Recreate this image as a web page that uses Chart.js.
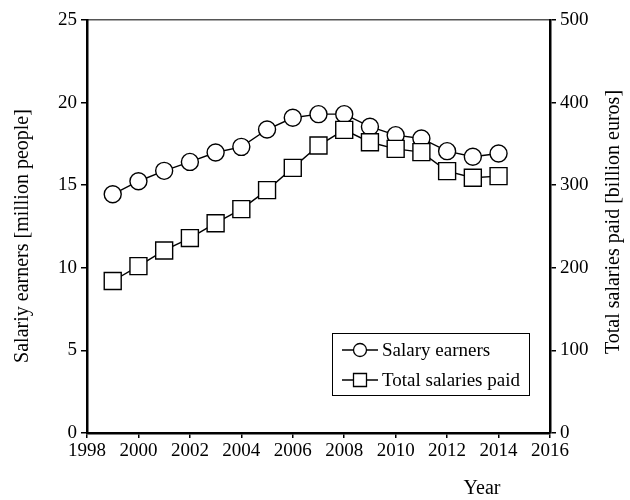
<!DOCTYPE html>
<html>
<head>
<meta charset="utf-8">
<script src="https://cdn.jsdelivr.net/npm/chart.js@4/dist/chart.umd.min.js"></script>
<style>
  html, body { margin: 0; padding: 0; background: #fff; }
  #wrap { width: 630px; height: 500px; }
</style>
</head>
<body>
<div id="wrap"><canvas id="myChart" width="630" height="500"></canvas></div>
<script>
const years = [1999, 2000, 2001, 2002, 2003, 2004, 2005, 2006, 2007, 2008, 2009, 2010, 2011, 2012, 2013, 2014];
const earners = [14.45, 15.24, 15.87, 16.41, 16.98, 17.32, 18.37, 19.08, 19.3, 19.3, 18.54, 18.03, 17.83, 17.06, 16.72, 16.92];
const salaries = [184, 202, 221, 236, 254, 271, 294, 321, 348, 367, 352, 344, 340, 317, 309, 311];
const legendLabels = ['Salary earners', 'Total salaries paid'];
const leftTitle = 'Salariy earners [million people]';
const rightTitle = 'Total salaries paid [billion euros]';
const xTitle = 'Year';

const serif = "'Liberation Serif', 'DejaVu Serif', serif";

function toPoints(vals) {
    return years.map((y, i) => ({x: y, y: vals[i]}));
}

// titles and legend drawn by hand so they sit where the reference has them
const extras = {
    id: 'extras',
    afterDraw(chart) {
        const ctx = chart.ctx;
        ctx.save();
        ctx.fillStyle = '#000';
        ctx.font = '20px ' + serif;
        ctx.textAlign = 'center';
        ctx.textBaseline = 'middle';

        ctx.save();
        ctx.translate(23, 236);
        ctx.rotate(-Math.PI / 2);
        ctx.fillText(leftTitle, 0, 0);
        ctx.restore();

        ctx.save();
        ctx.translate(614, 222);
        ctx.rotate(-Math.PI / 2);
        ctx.fillText(rightTitle, 0, 0);
        ctx.restore();

        ctx.fillText(xTitle, 482, 489);

        // legend box
        let bx = 332, by = 333, bw = 197, bh = 62;
        ctx.fillStyle = '#fff';
        ctx.fillRect(bx, by, bw, bh);
        ctx.strokeStyle = '#000';
        ctx.lineWidth = 1;
        ctx.strokeRect(bx + 0.5, by + 0.5, bw, bh);

        const rows = [350, 380];
        const styles = ['circle', 'rect'];
        ctx.font = '19px ' + serif;
        ctx.textAlign = 'left';
        rows.forEach((ry, i) => {
            ctx.beginPath();
            ctx.moveTo(342, ry);
            ctx.lineTo(378, ry);
            ctx.lineWidth = 1.3;
            ctx.stroke();
            ctx.fillStyle = '#fff';
            ctx.beginPath();
            if (styles[i] === 'circle') {
                ctx.arc(360, ry, 6.5, 0, Math.PI * 2);
            } else {
                ctx.rect(353.5, ry - 6.5, 13, 13);
            }
            ctx.fill();
            ctx.stroke();
            ctx.fillStyle = '#000';
            ctx.fillText(legendLabels[i], 382, ry + 1);
        });
        ctx.restore();
    }
};

const config = {
    type: 'line',
    data: {
        datasets: [{
            label: legendLabels[0],
            data: toPoints(earners),
            yAxisID: 'y',
            order: 1,
            borderColor: '#000',
            borderWidth: 1.4,
            pointStyle: 'circle',
            pointRadius: 8.5,
            pointBackgroundColor: '#fff',
            pointBorderColor: '#000',
            pointBorderWidth: 1.4,
            tension: 0
        }, {
            label: legendLabels[1],
            data: toPoints(salaries),
            yAxisID: 'y2',
            order: 0,
            borderColor: '#000',
            borderWidth: 1.4,
            pointStyle: 'rect',
            pointRadius: 12,
            pointBackgroundColor: '#fff',
            pointBorderColor: '#000',
            pointBorderWidth: 1.4,
            tension: 0
        }]
    },
    options: {
        responsive: false,
        animation: false,
        layout: {padding: 0},
        plugins: {
            legend: {display: false},
            tooltip: {enabled: false}
        },
        scales: {
            x: {
                type: 'linear',
                position: 'bottom',
                min: 1998,
                max: 2016,
                ticks: {stepSize: 2, color: '#000', font: {family: serif, size: 19}, padding: 2,
                    callback: v => String(v)},
                grid: {drawOnChartArea: false, drawTicks: true, tickLength: 5, color: '#000', lineWidth: 1.5},
                border: {color: '#000', width: 2.5},
                afterFit: s => { s.height = 67; }
            },
            xTop: {
                type: 'linear',
                position: 'top',
                min: 1998,
                max: 2016,
                ticks: {display: false},
                grid: {display: false},
                border: {color: '#555', width: 1.5},
                afterFit: s => { s.height = 20; }
            },
            y: {
                position: 'left',
                min: 0,
                max: 25,
                ticks: {stepSize: 5, color: '#000', font: {family: serif, size: 19}, padding: 4},
                grid: {drawOnChartArea: false, drawTicks: true, tickLength: 6, color: '#000', lineWidth: 1.5},
                border: {color: '#000', width: 2.5},
                afterFit: s => { s.width = 87; }
            },
            y2: {
                position: 'right',
                min: 0,
                max: 500,
                ticks: {stepSize: 100, color: '#000', font: {family: serif, size: 19}, padding: 4},
                grid: {drawOnChartArea: false, drawTicks: true, tickLength: 6, color: '#000', lineWidth: 1.5},
                border: {color: '#000', width: 2.5},
                afterFit: s => { s.width = 80; }
            }
        }
    },
    plugins: [extras]
};

const myChart = new Chart(document.getElementById('myChart'), config);
</script>
</body>
</html>
